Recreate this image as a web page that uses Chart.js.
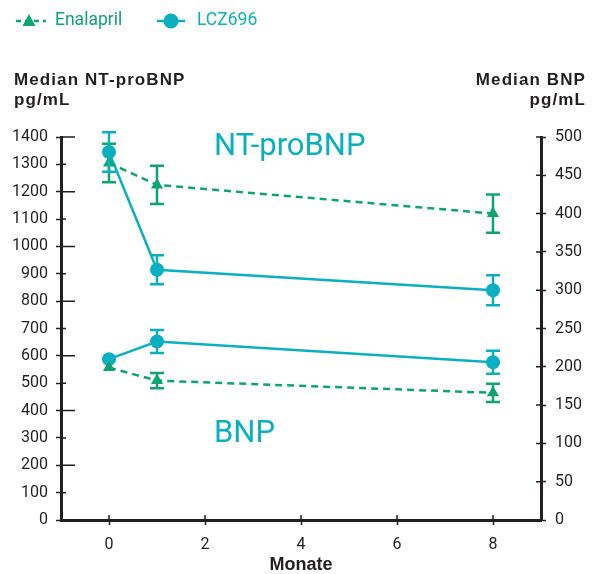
<!DOCTYPE html>
<html>
<head>
  <meta charset="UTF-8">
  <script src="https://cdn.jsdelivr.net/npm/chart.js"></script>
  <style>
    body { margin: 0; background: #fff; }
    .wrap { position: relative; width: 592px; height: 574px; }
    .lbl { position: absolute; white-space: nowrap; }
    .legend { font: 17.5px Roboto, sans-serif; top: 9px; }
    .ytitle { font: bold 17px "Liberation Sans", Arial, sans-serif; letter-spacing: 1.1px; color: #231f20; line-height: 20px; top: 70px; }
    .note { font: 31px Roboto, sans-serif; color: #0bb0c0; }
  </style>
</head>
<body>
<div class="wrap">
  <canvas id="myChart" width="592" height="574"></canvas>
  <span class="lbl legend" style="left:55px;color:#0ca56f">Enalapril</span>
  <span class="lbl legend" style="left:197px;color:#0bb0c0">LCZ696</span>
  <div class="lbl ytitle" style="left:14px">Median NT-proBNP<br>pg/mL</div>
  <div class="lbl ytitle" style="right:6px;text-align:right">Median BNP<br>pg/mL</div>
  <span class="lbl note" style="left:214px;top:126px">NT-proBNP</span>
  <span class="lbl note" style="left:214px;top:413px">BNP</span>
</div>
<script>
  // months on x
  const months = [0, 1, 8];
  const xTickLabels = [0, 2, 4, 6, 8];

  const ntEnalapril = [1305, 1225, 1120];
  const ntEnalaprilErr = [70, 70, 70];
  const ntLcz = [1345, 915, 840];
  const ntLczErr = [72, 53, 55];

  const bnpEnalapril = [199, 182, 166];
  const bnpEnalaprilErr = [0, 10, 12];
  const bnpLcz = [210, 233, 206];
  const bnpLczErr = [0, 15, 15];

  const GREEN = '#0ca56f';
  const TEAL = '#0bb0c0';
  const DARK = '#231f20';

  function pts(vals) {
    return months.map((m, i) => ({ x: m, y: vals[i] }));
  }

  function series(vals, err, axis, enal) {
    return {
      data: pts(vals),
      err: err,
      yAxisID: axis,
      borderColor: enal ? GREEN : TEAL,
      backgroundColor: enal ? GREEN : TEAL,
      borderWidth: 2.5,
      borderDash: enal ? [7, 5] : [],
      pointStyle: enal ? 'triangle' : 'circle',
      pointRadius: 7,
      pointBorderWidth: 0,
      tension: 0,
      clip: false
    };
  }

  const errorBars = {
    id: 'errorBars',
    afterDatasetsDraw(chart) {
      const ctx = chart.ctx;
      chart.data.datasets.forEach((ds, i) => {
        const meta = chart.getDatasetMeta(i);
        const ys = chart.scales[ds.yAxisID];
        meta.data.forEach((pt, j) => {
          const e = ds.err[j];
          if (!e) return;
          const v = ds.data[j].y;
          const t = ys.getPixelForValue(v + e);
          const b = ys.getPixelForValue(v - e);
          ctx.save();
          ctx.strokeStyle = ds.borderColor;
          ctx.lineWidth = 2.5;
          ctx.beginPath();
          ctx.moveTo(pt.x, t); ctx.lineTo(pt.x, b);
          ctx.moveTo(pt.x - 7, t); ctx.lineTo(pt.x + 7, t);
          ctx.moveTo(pt.x - 7, b); ctx.lineTo(pt.x + 7, b);
          ctx.stroke();
          ctx.restore();
        });
      });
    }
  };

  // inner tick marks and legend symbols
  const extras = {
    id: 'extras',
    afterDraw(chart) {
      const ctx = chart.ctx;
      const a = chart.chartArea;
      ctx.save();
      ctx.strokeStyle = DARK;
      ctx.lineWidth = 1.5;
      ctx.beginPath();
      chart.scales.y.ticks.forEach(t => {
        const y = chart.scales.y.getPixelForValue(t.value);
        ctx.moveTo(a.left, y);
        ctx.lineTo(a.left + (t.value % 200 === 0 ? 14 : 5), y);
      });
      chart.scales.y2.ticks.forEach(t => {
        const y = chart.scales.y2.getPixelForValue(t.value);
        ctx.moveTo(a.right, y);
        ctx.lineTo(a.right - 5, y);
      });
      chart.scales.x.ticks.forEach(t => {
        const x = chart.scales.x.getPixelForValue(t.value);
        ctx.moveTo(x, a.bottom);
        ctx.lineTo(x, a.bottom - 5);
      });
      ctx.stroke();

      // legend
      ctx.lineWidth = 2.5;
      ctx.strokeStyle = GREEN;
      ctx.fillStyle = GREEN;
      ctx.setLineDash([5, 4]);
      ctx.beginPath();
      ctx.moveTo(16, 21); ctx.lineTo(46, 21);
      ctx.stroke();
      ctx.setLineDash([]);
      ctx.beginPath();
      ctx.moveTo(29, 14); ctx.lineTo(35.5, 26); ctx.lineTo(22.5, 26);
      ctx.closePath();
      ctx.fill();

      ctx.strokeStyle = TEAL;
      ctx.fillStyle = TEAL;
      ctx.beginPath();
      ctx.moveTo(157, 21); ctx.lineTo(185, 21);
      ctx.stroke();
      ctx.beginPath();
      ctx.arc(171, 21, 7.5, 0, Math.PI * 2);
      ctx.fill();
      ctx.restore();
    }
  };

  const tickFont = { family: 'Roboto', size: 16 };
  const plain = v => String(v);

  new Chart(document.getElementById('myChart'), {
    type: 'line',
    data: {
      datasets: [
        series(ntEnalapril, ntEnalaprilErr, 'y', true),
        series(ntLcz, ntLczErr, 'y', false),
        series(bnpEnalapril, bnpEnalaprilErr, 'y2', true),
        series(bnpLcz, bnpLczErr, 'y2', false)
      ]
    },
    options: {
      responsive: false,
      animation: false,
      layout: { padding: { top: 137, left: 0, right: 0, bottom: 0 } },
      plugins: { legend: { display: false }, tooltip: { enabled: false } },
      scales: {
        x: {
          type: 'linear',
          min: -1,
          max: 9,
          afterBuildTicks: s => { s.ticks = xTickLabels.map(v => ({ value: v })); },
          afterFit: s => { s.height = 54; },
          grid: { drawOnChartArea: false, tickLength: 5, tickWidth: 1.5, tickColor: DARK },
          border: { color: DARK, width: 3 },
          ticks: { font: tickFont, color: DARK, padding: 10, callback: plain },
          title: { display: true, text: 'Monate', color: DARK, padding: { top: 0, bottom: 0 },
                   font: { family: 'Liberation Sans', size: 18, weight: 'bold', lineHeight: 1 } }
        },
        y: {
          position: 'left',
          min: 0,
          max: 1400,
          afterFit: s => { s.width = 61; },
          grid: { drawOnChartArea: false, tickLength: 5, tickWidth: 1.5, tickColor: DARK },
          border: { color: DARK, width: 3 },
          ticks: { stepSize: 100, font: tickFont, color: DARK, padding: 8, callback: plain }
        },
        y2: {
          position: 'right',
          min: 0,
          max: 500,
          afterFit: s => { s.width = 51; },
          grid: { drawOnChartArea: false, tickLength: 5, tickWidth: 1.5, tickColor: DARK },
          border: { color: DARK, width: 3 },
          ticks: { stepSize: 50, font: tickFont, color: DARK, padding: 9, callback: plain }
        }
      }
    },
    plugins: [errorBars, extras]
  });
</script>
</body>
</html>
